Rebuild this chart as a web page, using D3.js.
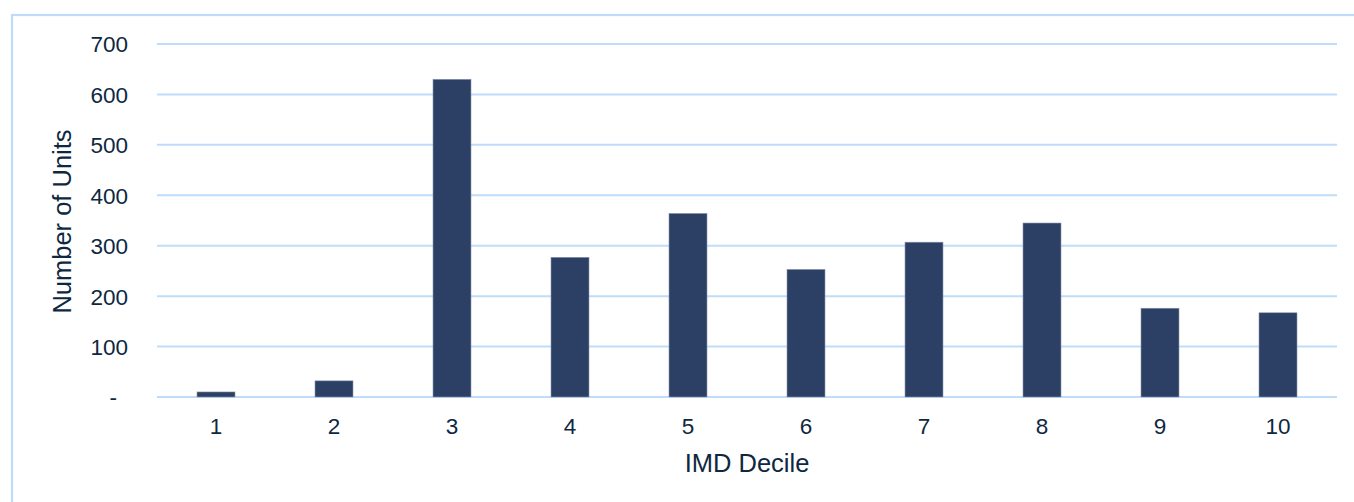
<!DOCTYPE html>
<html>
<head>
<meta charset="utf-8">
<script src="https://cdn.jsdelivr.net/npm/d3@7"></script>
<style>
  html, body { margin: 0; padding: 0; background: #ffffff; }
  svg { display: block; }
  text { font-family: "Liberation Sans", Arial, sans-serif; fill: #0E2841; }
</style>
</head>
<body>
<svg id="chart" width="1354" height="502"></svg>
<script>
// Units per IMD decile
const deciles = ["1", "2", "3", "4", "5", "6", "7", "8", "9", "10"];
const units = [10, 32, 630, 277, 364, 253, 307, 345, 176, 167];
const yTicks = [0, 100, 200, 300, 400, 500, 600, 700];

const svg = d3.select("#chart");
const W = 1354, H = 502;
const plot = { left: 157, right: 1337, top: 44, bottom: 397 };

// Outer frame
svg.append("rect")
  .attr("x", 12).attr("y", 15)
  .attr("width", W + 20).attr("height", H + 20)
  .attr("fill", "none")
  .attr("stroke", "#BDDCFA")
  .attr("stroke-width", 2.2);

const x = d3.scaleBand()
  .domain(deciles)
  .range([plot.left, plot.right])
  .paddingInner(0.678)
  .paddingOuter(0.339);

const y = d3.scaleLinear()
  .domain([0, 700])
  .range([plot.bottom, plot.top]);

// Horizontal gridlines
svg.append("g")
  .selectAll("line")
  .data(yTicks)
  .join("line")
  .attr("x1", plot.left).attr("x2", plot.right)
  .attr("y1", d => y(d)).attr("y2", d => y(d))
  .attr("stroke", "#BFDDFB")
  .attr("stroke-width", 2);

// Bars
svg.append("g")
  .selectAll("rect")
  .data(deciles.map((d, i) => ({ d, v: units[i] })))
  .join("rect")
  .attr("x", r => x(r.d))
  .attr("width", x.bandwidth())
  .attr("y", r => y(r.v))
  .attr("height", r => y(0) - y(r.v))
  .attr("fill", "#2C3F65")
  .attr("stroke", "#8A96AE")
  .attr("stroke-width", 0.6);

// Y axis labels
const yAxis = d3.axisLeft(y)
  .tickValues(yTicks)
  .tickSize(0)
  .tickPadding(0)
  .tickFormat(d => d === 0 ? "-" : d3.format("d")(d));
const gy = svg.append("g")
  .attr("transform", `translate(128,0)`)
  .call(yAxis);
gy.select(".domain").remove();
gy.selectAll("text")
  .style("font-size", "22.5px")
  .attr("dy", "0.35em")
  .attr("x", d => d === 0 ? -11 : 0);

// X axis labels
const xAxis = d3.axisBottom(x).tickSize(0).tickPadding(0);
const gx = svg.append("g")
  .attr("transform", `translate(0,${plot.bottom})`)
  .call(xAxis);
gx.select(".domain").remove();
gx.selectAll("text")
  .style("font-size", "22.5px")
  .attr("dy", 0)
  .attr("y", 37);

// Axis titles
svg.append("text")
  .attr("x", (plot.left + plot.right) / 2)
  .attr("y", 472)
  .attr("text-anchor", "middle")
  .style("font-size", "25.5px")
  .text("IMD Decile");

svg.append("text")
  .attr("transform", `translate(71,${(plot.top + plot.bottom) / 2 + 1}) rotate(-90)`)
  .attr("text-anchor", "middle")
  .style("font-size", "25.5px")
  .text("Number of Units");
</script>
</body>
</html>
